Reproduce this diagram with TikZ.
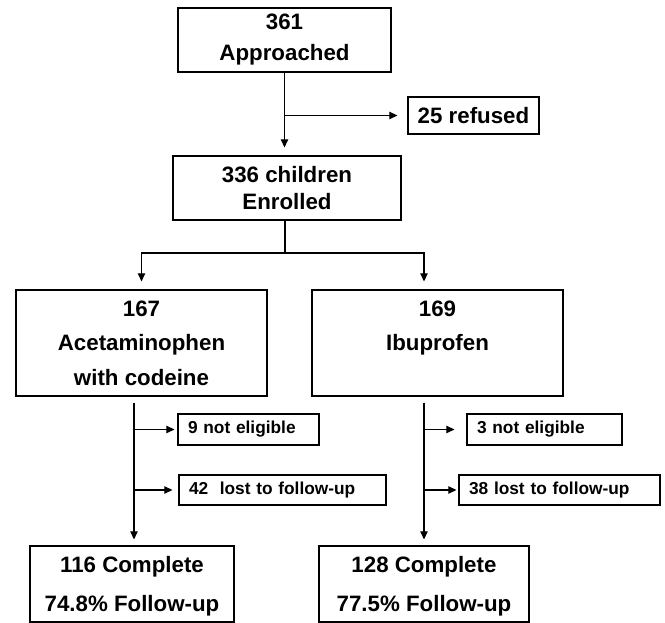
\documentclass[tikz,border=0pt]{standalone}
\usepackage{fontspec}
\setmainfont{Liberation Sans}
\usetikzlibrary{arrows.meta}
\def\bigfont{\fontsize{22.3}{27}\selectfont\bfseries}
\def\smallfont{\fontsize{17.3}{20}\selectfont\bfseries}
\tikzset{
	box/.style={draw, line width=1.3pt, inner sep=0pt, align=center, font=\bigfont},
	smallbox/.style={draw, line width=1.3pt, inner ysep=0pt, inner xsep=10pt, align=left, font=\smallfont},
	arr/.style={line width=1.2pt, -{Triangle[length=8pt,width=7.5pt]}}
}
\begin{document}
\begin{tikzpicture}[x=1pt, y=-1pt]
			%%%%% START %%%%%
			\useasboundingbox (0, 0) rectangle (665, 623);
			
			\node[box, minimum width=213pt, minimum height=64pt] (appr) at (284.5, 40) {361\\[4pt]Approached};
			\node[smallbox, font=\bigfont, inner xsep=0pt, align=center, minimum width=131pt, minimum height=37pt] (refused) at (473.5, 115.5) {25 refused};
			\node[box, minimum width=228pt, minimum height=64pt] (enrol) at (287, 188) {336 children\\Enrolled};
			
			\node[box, minimum width=251pt, minimum height=106pt] (acet) at (141.5, 343) {167\\[7.5pt]Acetaminophen\\[7.5pt]with codeine};
			\node[box, minimum width=251pt, minimum height=106pt] (ibu) at (437.5, 343) {169\\[7.5pt]Ibuprofen\\[7.5pt]\mbox{}};
			
			\node[smallbox, text width=121pt, minimum height=31pt] (ne1) at (248.5, 429.5) {9 not eligible};
			\node[smallbox, text width=187pt, minimum height=30pt] (lost1) at (282.5, 490) {42\ \ lost to follow-up};
			\node[smallbox, text width=135pt, minimum height=31pt] (ne2) at (544.5, 429.5) {3 not eligible};
			\node[smallbox, text width=181pt, minimum height=30pt] (lost2) at (559.5, 490) {38 lost to follow-up};
			
			\node[box, minimum width=204pt, minimum height=76pt] (comp1) at (132, 584) {116 Complete\\[12pt]\smash{74.8\% Follow-up}};
			\node[box, minimum width=210pt, minimum height=76pt] (comp2) at (424, 584) {128 Complete\\[12pt]\smash{77.5\% Follow-up}};
			
			% top part
			\draw[arr, shorten >=8pt] (appr.south) -- (appr.south |- enrol.north);
			\coordinate (r1) at (appr.south |- refused.west);
			\draw[arr, shorten >=10pt] (r1) -- (refused.west);
			
			% split into the two arms
			\coordinate (split) at (285, 253);
			\draw[line width=1.2pt] (enrol.south -| split) -- (split);
			\draw[arr, shorten >=8pt] (split) -| (acet.north);
			\draw[arr, shorten >=8pt] (split) -| (comp2.north |- ibu.north);
			
			% left arm
			\coordinate (a1) at ([xshift=2pt]comp1.north |- acet.south);
			\draw[arr, shorten <=6pt, shorten >=6pt] (a1) -- (a1 |- comp1.north);
			\draw[arr, shorten >=3pt] (a1 |- ne1.west) -- (ne1.west);
			\draw[arr, shorten >=6pt] (a1 |- lost1.west) -- (lost1.west);
			
			% right arm
			\coordinate (a2) at (comp2.north |- ibu.south);
			\draw[arr, shorten <=6pt, shorten >=6pt] (a2) -- (comp2.north);
			\draw[arr, shorten >=12pt] (a2 |- ne2.west) -- (ne2.west);
			\draw[arr, shorten >=2pt] (a2 |- lost2.west) -- (lost2.west);
			
			%%%%% END %%%%%
\end{tikzpicture}
\end{document}
